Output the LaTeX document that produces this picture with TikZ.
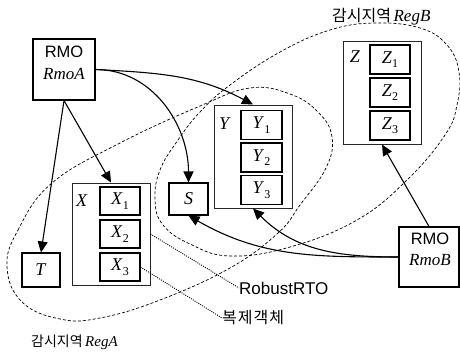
\documentclass[tikz,border=0pt]{standalone}
\usepackage{fontspec}
\setmainfont{Liberation Serif}
\setsansfont{Liberation Sans}
\newfontfamily\krfont{Noto Sans CJK KR}
\usetikzlibrary{arrows.meta}
\newcommand{\mysubs}[2]{\textit{#1}\raisebox{-0.25em}{\fontsize{12}{12}\selectfont #2}}
\begin{document}
\begin{tikzpicture}[x=1pt,y=-1pt,
  box/.style={draw, line width=1.1pt, inner sep=0pt},
  obox/.style={draw=black!85, line width=1pt, inner sep=0pt},
  arr/.style={line width=1.1pt, -{Triangle[length=11pt,width=10pt]}},
  region/.style={line width=0.7pt, dash pattern=on 3pt off 2pt},
  ptr/.style={line width=0.9pt, dash pattern=on 1pt off 1.2pt},
  sflab/.style={font=\sffamily\fontsize{16.5}{18}\selectfont, inner sep=0pt},
  itlab/.style={font=\fontsize{17}{18}\selectfont\itshape, inner sep=0pt},
  namelab/.style={font=\fontsize{18}{20}\selectfont, inner sep=0pt},
  krlab/.style={font=\krfont\fontsize{16}{18}\selectfont, inner sep=0pt},
]
\useasboundingbox (0,0) rectangle (460,351);

% monitoring regions
\draw[region] plot[smooth cycle, tension=0.7] coordinates {
  (7,267) (18,230) (52,183) (120,143) (200,106) (250,88) (290,94) (318,112)
  (332,137) (326,168) (300,205) (278,233) (230,268) (160,300) (100,318) (60,319) (22,302)};
\draw[region] plot[smooth cycle, tension=0.7] coordinates {
  (160,170) (178,140) (200,112) (230,85) (280,52) (330,30) (375,23) (420,28)
  (447,45) (459,72) (457,105) (445,135) (407,180) (357,220) (290,247) (230,256)
  (190,244) (163,225) (155,200)};

% RMO A
\node[box, minimum width=62pt, minimum height=61pt] (rmoA) at (64,69.5) {};
\node[sflab] (rmoAt) at (64,52) {RMO};
\node[itlab] (rmoAn) at (64,74) {RmoA};

% RMO B
\node[box, minimum width=60pt, minimum height=60pt] (rmoB) at (429,257) {};
\node[sflab] (rmoBt) at (430,239) {RMO};
\node[itlab] (rmoBn) at (430,260) {RmoB};

% T and S
\node[box, minimum width=38pt, minimum height=34pt, namelab] (T) at (41,270) {\textit{T}};
\node[box, minimum width=39pt, minimum height=32pt, namelab] (S) at (188.5,199) {\textit{S}};

% X group
\node[obox, minimum width=78pt, minimum height=102pt] (X) at (111,234) {};
\node[namelab] (Xl) at (82,201) {\textit{X}};
\node[box, minimum width=40pt, minimum height=28pt, namelab] (X1) at (120,201) {\mysubs{X}{1}};
\node[box, minimum width=40pt, minimum height=28pt, namelab] (X2) at (120,234) {\mysubs{X}{2}};
\node[box, minimum width=40pt, minimum height=28pt, namelab] (X3) at (120,267) {\mysubs{X}{3}};

% Y group
\node[obox, minimum width=78pt, minimum height=103pt] (Y) at (253,156.5) {};
\node[namelab] (Yl) at (225,124) {\textit{Y}};
\node[box, minimum width=41pt, minimum height=29pt, namelab] (Y1) at (261.5,125) {\mysubs{Y}{1}};
\node[box, minimum width=41pt, minimum height=29pt, namelab] (Y2) at (261.5,157.5) {\mysubs{Y}{2}};
\node[box, minimum width=41pt, minimum height=29pt, namelab] (Y3) at (261.5,190) {\mysubs{Y}{3}};

% Z group
\node[obox, minimum width=78pt, minimum height=103pt] (Z) at (382,92.5) {};
\node[namelab] (Zl) at (355,57) {\textit{Z}};
\node[box, minimum width=40pt, minimum height=29pt, namelab] (Z1) at (390,59.5) {\mysubs{Z}{1}};
\node[box, minimum width=40pt, minimum height=29pt, namelab] (Z2) at (390,92.5) {\mysubs{Z}{2}};
\node[box, minimum width=40pt, minimum height=29pt, namelab] (Z3) at (390,125.5) {\mysubs{Z}{3}};

% labels
\node[sflab, font=\sffamily\fontsize{17}{18}\selectfont, anchor=west] (rob) at (239,288) {RobustRTO};
\node[krlab, anchor=west] (rep) at (222,318) {복\kern1pt 제\kern1pt 객\kern1pt 체};
\node[anchor=west, inner sep=0pt] (regA) at (31,342) {{\krfont\fontsize{14}{16}\selectfont 감시지역} {\fontsize{15}{16}\selectfont\itshape RegA}};
\node[anchor=west, inner sep=0pt] (regB) at (332,17) {{\krfont\fontsize{16}{18}\selectfont 감시지역} {\fontsize{17}{18}\selectfont\itshape RegB}};

% arrows
\draw[arr] (rmoA.south) -- (T.north);
\draw[arr] (rmoA.south) -- (X.north);
\draw[arr] (rmoA.east) to[out=0, in=90] (S.north);
\draw[arr] (rmoA.east) to[out=-3, in=152] (Y.north);
\draw[arr] (rmoB.north) -- (Z.south);
\draw[arr] (rmoB.west) to[out=180, in=-45] (Y.south);
\draw[arr] (rmoB.west) to[out=180, in=-30] (S.south);

% pointers
\draw[ptr] (X.east) -- (rob.west);
\draw[ptr] (X3.east) -- (rep.west);
\end{tikzpicture}
\end{document}
